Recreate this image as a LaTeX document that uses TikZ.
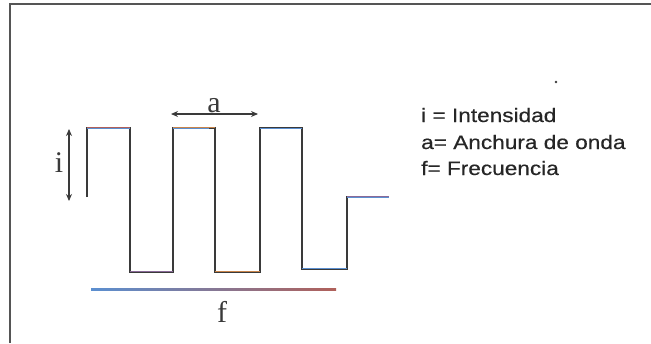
\documentclass[tikz,border=0pt]{standalone}
\usepackage{fontspec}
\setmainfont{Liberation Serif}
\newfontfamily\legendfont[FakeStretch=1.16,FakeBold=0.4]{Liberation Sans}
\usetikzlibrary{arrows.meta}
\definecolor{wave}{HTML}{3A3A3A}
\definecolor{frameg}{HTML}{555555}
\definecolor{tblue}{HTML}{5B8FD0}
\definecolor{tred}{HTML}{B0605A}
\definecolor{torange}{HTML}{C8844A}
\definecolor{tpurple}{HTML}{8A6A98}
\tikzset{
  waveline/.style={draw=wave, line width=1.7pt, line join=miter},
  tint/.style={line width=1.1pt},
  dimarrow/.style={draw=wave, line width=1.2pt, {Stealth[length=7pt,width=6pt]}-{Stealth[length=7pt,width=6pt]}},
  serlabel/.style={inner sep=0pt, font=\fontsize{30}{30}\selectfont, text=wave},
  legend/.style={inner sep=0pt, anchor=base west, font=\legendfont\fontsize{19.5}{24}\selectfont, text=black!85},
  framestyle/.style={draw=frameg, line width=2pt}
}
\begin{document}
\begin{tikzpicture}[x=1pt,y=-1pt]
\useasboundingbox (0,0) rectangle (651,343);
% frame
\coordinate (fbl) at (10,343);
\coordinate (ftl) at (10,4);
\coordinate (ftr) at (651,4);
\draw[framestyle] (fbl) -- (ftl) -- (ftr);
% waveform
\coordinate (w0) at (87,197);
\coordinate (w1) at (87,128);
\coordinate (w2) at (130,128);
\coordinate (w3) at (130,272);
\coordinate (w4) at (173,272);
\coordinate (w5) at (173,128);
\coordinate (w6) at (215,128);
\coordinate (w7) at (215,272);
\coordinate (w8) at (260,272);
\coordinate (w9) at (260,128);
\coordinate (w10) at (302,128);
\coordinate (w11) at (302,269);
\coordinate (w12) at (347,269);
\coordinate (w13) at (347,197);
\coordinate (w14) at (389,197);
\draw[waveline] (w0) -- (w1) -- (w2) -- (w3) -- (w4) -- (w5) -- (w6) -- (w7) -- (w8) -- (w9) -- (w10) -- (w11) -- (w12) -- (w13) -- (w14);
% coloured tints on horizontal segments
\draw[tint, tblue] ([yshift=-0.5pt]w1) -- ([yshift=-0.5pt]w2);
\draw[tint, tred] ([yshift=0.9pt]w1) -- ([yshift=0.9pt]w2);
\draw[tint, tblue] ([yshift=-0.5pt]w5) -- ([xshift=-6pt,yshift=-0.5pt]w6);
\draw[tint, torange] ([yshift=0.9pt]w5) -- ([yshift=0.9pt]w6);
\draw[tint, tblue] ([yshift=-0.5pt]w9) -- ([yshift=-0.5pt]w10);
\draw[tint, tpurple] ([yshift=0.5pt]w3) -- ([yshift=0.5pt]w4);
\draw[tint, torange] ([yshift=0.5pt]w7) -- ([yshift=0.5pt]w8);
\draw[tint, tblue] ([yshift=0.5pt]w11) -- ([yshift=0.5pt]w12);
\draw[tint, tblue] ([yshift=-0.5pt]w13) -- ([yshift=-0.5pt]w14);
\draw[tint, tpurple] ([yshift=0.9pt]w13) -- ([yshift=0.9pt]w14);
% intensity arrow
\coordinate (ia) at (69,129);
\coordinate (ib) at (69,201);
\draw[dimarrow] (ia) -- (ib);
\node[serlabel, anchor=base] (il) at (59,172) {i};
% width arrow
\coordinate (aa) at (171,114);
\coordinate (ab) at (258,114);
\draw[dimarrow] (aa) -- (ab);
\node[serlabel, anchor=base] (al) at (214,112) {a};
% frequency line
\coordinate (fa) at (91,289);
\coordinate (fb) at (336,289);
\shade[left color=tblue, right color=tred] ([yshift=-1pt]fa) rectangle ([yshift=1pt]fb);
\node[serlabel, anchor=base] (fl) at (222,322) {f};
% dot
\coordinate (dot) at (556,82);
\fill[wave] (dot) circle (1.3pt);
% legend
\node[legend] (l1) at (421,122) {i = Intensidad};
\node[legend] (l2) at (421,149) {a= Anchura de onda};
\node[legend] (l3) at (421,175) {f= Frecuencia};
\end{tikzpicture}
\end{document}
